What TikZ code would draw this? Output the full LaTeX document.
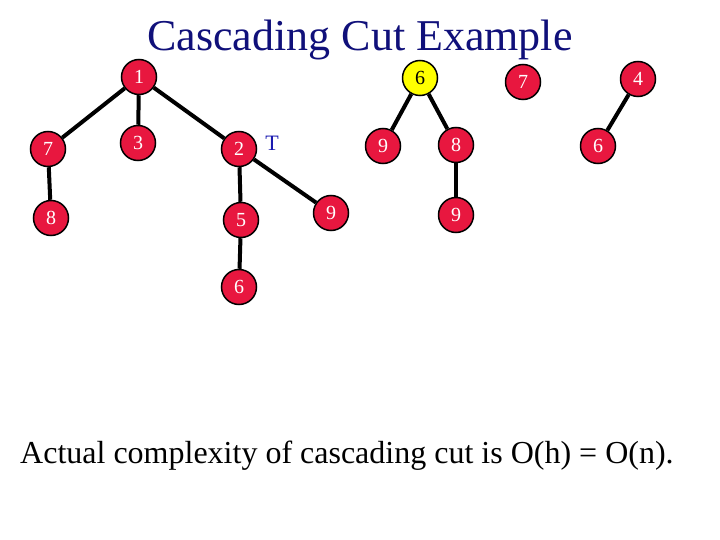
\documentclass[tikz,border=0pt]{standalone}
\usepackage{fontspec}
\setmainfont{Liberation Serif}
\definecolor{nodered}{HTML}{E8173F}
\definecolor{nodeyellow}{HTML}{FFFF00}
\definecolor{titleblue}{HTML}{10107A}
\definecolor{tblue}{HTML}{1A1AB0}
\begin{document}
\begin{tikzpicture}[x=1pt,y=-1pt,
  hnode/.style={circle,draw=black,line width=1.5pt,fill=nodered,text=white,minimum size=35pt,inner sep=0pt,font=\fontsize{20}{20}\selectfont},
  ynode/.style={hnode,fill=nodeyellow,text=black},
  edge/.style={line width=4pt,black}]
\useasboundingbox (0,0) rectangle (720,540);
\node[font=\fontsize{44}{44}\selectfont,text=titleblue,anchor=base] (title) at (360,51) {Cascading Cut Example};
\node[font=\fontsize{32}{32}\selectfont,anchor=base west,inner sep=0pt] (bottom) at (20,463) {Actual complexity of cascading cut is O(h) = O(n).};
% tree 1
\node[hnode] (n1) at (139,77) {1};
\node[hnode] (n7) at (48,149) {7};
\node[hnode] (n3) at (138,143) {3};
\node[hnode] (n2) at (239,149) {2};
\node[hnode] (n8) at (51,218) {8};
\node[hnode] (n5) at (241,220) {5};
\node[hnode] (n9a) at (331,213) {9};
\node[hnode] (n6a) at (239,287) {6};
\node[font=\fontsize{22}{22}\selectfont,text=tblue] (tlab) at (272,143) {T};
% tree 2
\node[ynode] (y6) at (420,78) {6};
\node[hnode] (n9b) at (383,146) {9};
\node[hnode] (n8b) at (456,145) {8};
\node[hnode] (n9c) at (456,215) {9};
% tree 3, 4
\node[hnode] (n7b) at (523,82) {7};
\node[hnode] (n4) at (638,79) {4};
\node[hnode] (n6b) at (598,146) {6};
\draw[edge] (n1) -- (n7);
\draw[edge] (n1) -- (n3);
\draw[edge] (n1) -- (n2);
\draw[edge] (n7) -- (n8);
\draw[edge] (n2) -- (n5);
\draw[edge] (n2) -- (n9a);
\draw[edge] (n5) -- (n6a);
\draw[edge] (y6) -- (n9b);
\draw[edge] (y6) -- (n8b);
\draw[edge] (n8b) -- (n9c);
\draw[edge] (n4) -- (n6b);
\end{tikzpicture}
\end{document}
